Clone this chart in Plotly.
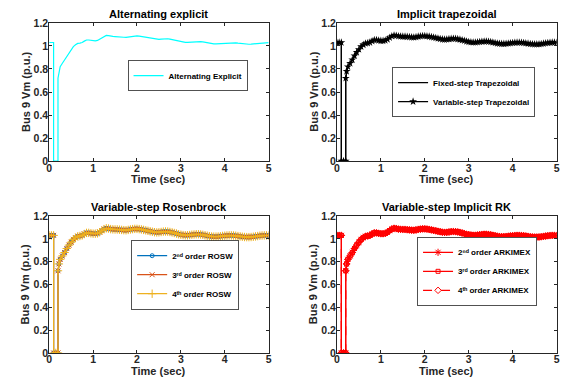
import plotly.graph_objects as go

# ---------------- data ----------------
time_s = [0, 0.05, 0.1, 0.1, 0.15, 0.2, 0.2, 0.22, 0.25, 0.3, 0.35, 0.4, 0.45, 0.5,
          0.55, 0.6, 0.65, 0.7, 0.75, 0.8, 0.85, 0.9, 0.95, 1.0, 1.05, 1.1, 1.15,
          1.2, 1.25, 1.3, 1.35, 1.4, 1.45, 1.5, 1.55, 1.6, 1.65, 1.7, 1.75, 1.8,
          1.85, 1.9, 1.95, 2.0, 2.05, 2.1, 2.15, 2.2, 2.25, 2.3, 2.35, 2.4, 2.45,
          2.5, 2.55, 2.6, 2.65, 2.7, 2.75, 2.8, 2.85, 2.9, 2.95, 3.0, 3.05, 3.1,
          3.15, 3.2, 3.25, 3.3, 3.35, 3.4, 3.45, 3.5, 3.55, 3.6, 3.65, 3.7, 3.75,
          3.8, 3.85, 3.9, 3.95, 4.0, 4.05, 4.1, 4.15, 4.2, 4.25, 4.3, 4.35, 4.4,
          4.45, 4.5, 4.55, 4.6, 4.65, 4.7, 4.75, 4.8, 4.85, 4.9, 4.95, 5.0]
vm_pu = [1.03, 1.03, 1.03, 0.0, 0.0, 0.0, 0.72, 0.78, 0.82, 0.85, 0.88, 0.915, 0.945, 0.97,
         0.995, 1.01, 1.022, 1.025, 1.03, 1.042, 1.052, 1.052, 1.048, 1.045, 1.045, 1.048, 1.058,
         1.072, 1.085, 1.092, 1.09, 1.085, 1.083, 1.082, 1.082, 1.08, 1.078, 1.076, 1.075, 1.078,
         1.082, 1.085, 1.087, 1.087, 1.085, 1.082, 1.078, 1.074, 1.07, 1.066, 1.062, 1.058, 1.056,
         1.057, 1.06, 1.063, 1.064, 1.063, 1.06, 1.056, 1.051, 1.046, 1.04, 1.036, 1.033, 1.031,
         1.031, 1.033, 1.036, 1.038, 1.04, 1.04, 1.038, 1.035, 1.031, 1.027, 1.023, 1.02, 1.019,
         1.019, 1.02, 1.022, 1.025, 1.027, 1.029, 1.03, 1.03, 1.029, 1.027, 1.024, 1.021, 1.018,
         1.016, 1.015, 1.015, 1.016, 1.018, 1.021, 1.024, 1.027, 1.029, 1.03, 1.03, 1.029]

panel_titles = ["Alternating explicit", "Implicit trapezoidal",
                "Variable-step Rosenbrock", "Variable-step Implicit RK"]
x_ticks = [0, 1, 2, 3, 4, 5]
y_ticks = [0, 0.2, 0.4, 0.6, 0.8, 1, 1.2]
y_tick_text = ["0", "0.2", "0.4", "0.6", "0.8", "1", "1.2"]

# ---------------- layout helpers ----------------
W, H = 568, 388
FONT = "Liberation Sans, Arial, Helvetica, sans-serif"


def fx(p):
    return p / W


def fy(p):
    return 1 - p / H


# pixel boxes of the four plot areas: (left, right, top, bottom)
boxes = [(46.7, 268.5, 17.5, 160.0),
         (337.5, 559.5, 17.5, 160.0),
         (46.7, 268.5, 216.7, 358.0),
         (337.5, 559.5, 216.7, 358.0)]

fig = go.Figure()

# Panel 1: alternating explicit
fig.add_trace(go.Scatter(x=time_s, y=vm_pu, mode="lines", name="Alternating Explicit",
                         line=dict(color="#00FFFF", width=1.2),
                         xaxis="x", yaxis="y", legend="legend"))

# Panel 2: trapezoidal
fig.add_trace(go.Scatter(x=time_s, y=vm_pu, mode="lines", name="Fixed-step Trapezoidal",
                         line=dict(color="black", width=1.2),
                         xaxis="x2", yaxis="y2", legend="legend2"))
fig.add_trace(go.Scatter(x=time_s, y=vm_pu, mode="lines+markers", name="Variable-step Trapezoidal",
                         line=dict(color="black", width=1.2),
                         marker=dict(symbol="star", size=6, color="black"),
                         xaxis="x2", yaxis="y2", legend="legend2"))

# Panel 3: Rosenbrock
fig.add_trace(go.Scatter(x=time_s, y=vm_pu, mode="lines+markers", name="2ⁿᵈ order ROSW",
                         line=dict(color="#0072BD", width=1.2),
                         marker=dict(symbol="circle-open", size=4, color="#0072BD", line=dict(width=1)),
                         xaxis="x3", yaxis="y3", legend="legend3"))
fig.add_trace(go.Scatter(x=time_s, y=vm_pu, mode="lines+markers", name="3ʳᵈ order ROSW",
                         line=dict(color="#D95319", width=1.2),
                         marker=dict(symbol="x-thin-open", size=5, color="#D95319", line=dict(width=1, color="#D95319")),
                         xaxis="x3", yaxis="y3", legend="legend3"))
fig.add_trace(go.Scatter(x=time_s, y=vm_pu, mode="lines+markers", name="4ᵗʰ order ROSW",
                         line=dict(color="#EDB120", width=1.2),
                         marker=dict(symbol="cross-thin-open", size=6, color="#EDB120", line=dict(width=1, color="#EDB120")),
                         xaxis="x3", yaxis="y3", legend="legend3"))

# Panel 4: ARKIMEX
fig.add_trace(go.Scatter(x=time_s, y=vm_pu, mode="lines+markers", name="2ⁿᵈ order ARKIMEX",
                         line=dict(color="#FF0000", width=1.2),
                         marker=dict(symbol="asterisk-open", size=6, color="#FF0000", line=dict(width=1, color="#FF0000")),
                         xaxis="x4", yaxis="y4", legend="legend4"))
fig.add_trace(go.Scatter(x=time_s, y=vm_pu, mode="lines+markers", name="3ʳᵈ order ARKIMEX",
                         line=dict(color="#FF0000", width=1.2),
                         marker=dict(symbol="square-open", size=4, color="#FF0000", line=dict(width=1)),
                         xaxis="x4", yaxis="y4", legend="legend4"))
fig.add_trace(go.Scatter(x=time_s, y=vm_pu, mode="lines+markers", name="4ᵗʰ order ARKIMEX",
                         line=dict(color="#FF0000", width=1.2, dash="dash"),
                         marker=dict(symbol="diamond-open", size=5, color="#FF0000", line=dict(width=1)),
                         xaxis="x4", yaxis="y4", legend="legend4"))

tickfont = dict(family=FONT, size=10.5, color="#262626", weight=700)
annotations = []
layout = dict(width=W, height=H, margin=dict(l=0, r=0, t=0, b=0),
              paper_bgcolor="white", plot_bgcolor="white", showlegend=True,
              font=dict(family=FONT, color="#262626"))

for i, (l, r, t, b) in enumerate(boxes):
    sfx = "" if i == 0 else str(i + 1)
    layout["xaxis" + sfx] = dict(domain=[fx(l), fx(r)], range=[0, 5], tickvals=x_ticks,
                                 anchor="y" + sfx, ticks="inside", ticklen=3, tickwidth=0.8,
                                 tickcolor="#262626", showline=True, linecolor="#262626",
                                 linewidth=0.8, mirror="ticks", showgrid=False, zeroline=False,
                                 tickfont=tickfont, ticklabelstandoff=-3)
    layout["yaxis" + sfx] = dict(domain=[fy(b), fy(t)], range=[0, 1.2], tickvals=y_ticks,
                                 ticktext=y_tick_text, anchor="x" + sfx, ticks="inside", ticklen=3,
                                 tickwidth=0.8, tickcolor="#262626", showline=True,
                                 linecolor="#262626", linewidth=0.8, mirror="ticks",
                                 showgrid=False, zeroline=False, tickfont=tickfont,
                                 ticklabelstandoff=-2)
    cx = (l + r) / 2
    annotations.append(dict(text="<b>" + panel_titles[i] + "</b>", x=fx(cx), y=fy(t - 9.5),
                            xref="paper", yref="paper", showarrow=False, xanchor="center",
                            yanchor="middle", font=dict(family=FONT, size=11, color="black")))
    annotations.append(dict(text="<b>Time (sec)</b>", x=fx(cx), y=fy(b + 18.5),
                            xref="paper", yref="paper", showarrow=False, xanchor="center",
                            yanchor="middle", font=dict(family=FONT, size=11, color="#262626")))
    annotations.append(dict(text="<b>Bus 9 Vm (p.u.)</b>", x=fx(l - 23.5), y=fy((t + b) / 2),
                            xref="paper", yref="paper", showarrow=False, xanchor="center",
                            yanchor="middle", textangle=-90,
                            font=dict(family=FONT, size=11, color="#262626")))

legfont = dict(family=FONT, size=8, color="black", weight=700)
leg_common = dict(bgcolor="white", bordercolor="#262626", borderwidth=0.8, font=legfont,
                  xanchor="center", yanchor="middle", tracegroupgap=0, itemwidth=30,
                  xref="paper", yref="paper")
layout["legend"] = dict(x=fx(186.7), y=fy(72), **leg_common)
layout["legend2"] = dict(x=fx(465.7), y=fy(89), **leg_common)
layout["legend3"] = dict(x=fx(184.3), y=fy(277.5), **leg_common)
layout["legend4"] = dict(x=fx(479.3), y=fy(274), **leg_common)
layout["annotations"] = annotations

fig.update_layout(**layout)
fig.write_html("out.html", config={"displayModeBar": False},
               post_script="document.body.style.margin='0';document.body.style.overflow='hidden';")
